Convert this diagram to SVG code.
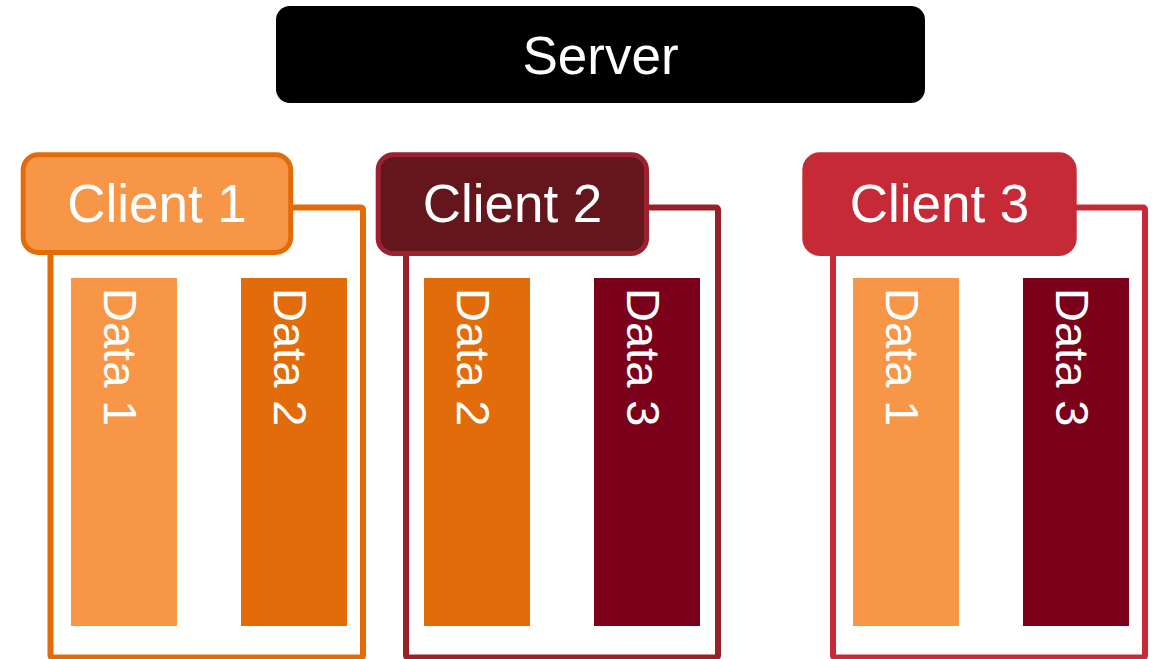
<svg xmlns="http://www.w3.org/2000/svg" width="1156" height="659" viewBox="0 0 1156 659">
<style>
text{font-family:"Liberation Sans",Arial,sans-serif;fill:#fff}
.lbl{font-size:53px;text-anchor:middle}
.dat{font-size:47px}
.frame{fill:none;stroke-width:6}
.c1{fill:#F79646;stroke:#E36C0A}
.c2{fill:#65161D;stroke:#9B2230}
.c3{fill:#C62A37;stroke:#C62A37}
.lo{fill:#F79646}
.do{fill:#E36C0A}
.dr{fill:#7B001A}
</style>
<rect width="1156" height="659" fill="#fff"/>
<g id="server">
<rect x="276" y="6" width="649" height="97" rx="14" fill="#000"/>
<text x="600.5" y="74" font-size="53" text-anchor="middle">Server</text>
</g>
<g id="connectors">
<rect class="frame" x="50.5" y="207.5" width="312.5" height="450" rx="2" stroke="#E36C0A"/>
<rect class="frame" x="406" y="207.5" width="312" height="450" rx="2" stroke="#982129"/>
<rect class="frame" x="833" y="207.5" width="312" height="450" rx="2" stroke="#C62A37"/>
</g>
<g id="client1">
<rect class="c1" x="23.2" y="154.8" width="267.5" height="97.7" rx="15" stroke-width="5"/>
<text class="lbl" x="157" y="222">Client 1</text>
</g>
<g id="client2">
<rect class="c2" x="378.2" y="154.8" width="268.3" height="98.7" rx="15" stroke-width="5"/>
<text class="lbl" x="512.5" y="222">Client 2</text>
</g>
<g id="client3">
<rect class="c3" x="804.8" y="154.8" width="269.4" height="98.7" rx="15" stroke-width="5"/>
<text class="lbl" x="939.5" y="222">Client 3</text>
</g>
<g id="c1-data1"><rect class="lo" x="71" y="278" width="106" height="348"/><text class="dat" transform="translate(104,288) rotate(90)">Data 1</text></g>
<g id="c1-data2"><rect class="do" x="241" y="278" width="106" height="348"/><text class="dat" transform="translate(274,288) rotate(90)">Data 2</text></g>
<g id="c2-data2"><rect class="do" x="424" y="278" width="106" height="348"/><text class="dat" transform="translate(457,288) rotate(90)">Data 2</text></g>
<g id="c2-data3"><rect class="dr" x="594" y="278" width="106" height="348"/><text class="dat" transform="translate(627,288) rotate(90)">Data 3</text></g>
<g id="c3-data1"><rect class="lo" x="853" y="278" width="106" height="348"/><text class="dat" transform="translate(886,288) rotate(90)">Data 1</text></g>
<g id="c3-data3"><rect class="dr" x="1023" y="278" width="106" height="348"/><text class="dat" transform="translate(1056,288) rotate(90)">Data 3</text></g>
</svg>
